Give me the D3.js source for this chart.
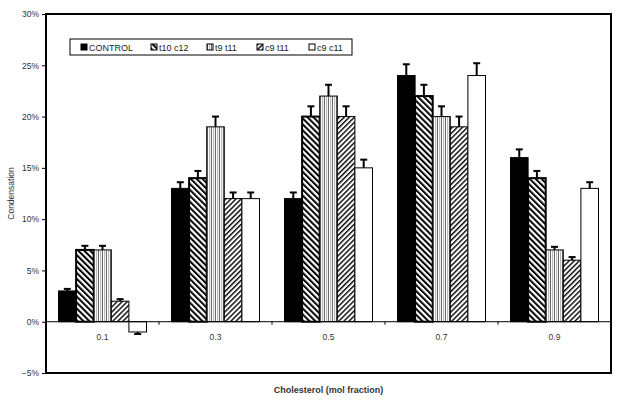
<!DOCTYPE html>
<html lang="en">
<head>
<meta charset="UTF-8">
<title>Condensation</title>
<style>
    body { margin: 0; background: #fff; }
    svg { font-family: "Liberation Sans", Arial, sans-serif; }
    .axis text { font-size: 8.5px; fill: #333; }
</style>
<script src="https://cdnjs.cloudflare.com/ajax/libs/d3/7.8.5/d3.min.js"></script>
</head>
<body>
<svg id="main" width="621" height="405"></svg>
<script>

// data (fractions)
var categories = ["0.1", "0.3", "0.5", "0.7", "0.9"];
var seriesNames = ["CONTROL", "t10 c12", "t9 t11", "c9 t11", "c9 c11"];

var control = [0.03, 0.13, 0.12, 0.24, 0.16];
var t10c12  = [0.07, 0.14, 0.20, 0.22, 0.14];
var t9t11   = [0.07, 0.19, 0.22, 0.20, 0.07];
var c9t11   = [0.02, 0.12, 0.20, 0.19, 0.06];
var c9c11   = [-0.01, 0.12, 0.15, 0.24, 0.13];

var errControl = [0.002, 0.006, 0.006, 0.011, 0.008];
var errT10c12  = [0.004, 0.007, 0.010, 0.011, 0.007];
var errT9t11   = [0.004, 0.010, 0.011, 0.010, 0.003];
var errC9t11   = [0.002, 0.006, 0.010, 0.010, 0.003];
var errC9c11   = [0.002, 0.006, 0.008, 0.012, 0.006];

var yTicks = [-0.05, 0, 0.05, 0.10, 0.15, 0.20, 0.25, 0.30];

var values = [control, t10c12, t9t11, c9t11, c9c11];
var errors = [errControl, errT10c12, errT9t11, errC9t11, errC9c11];

var svg = d3.select("#main");
var plotLeft = 46, plotRight = 611, plotTop = 14, plotBottom = 373;

var x0 = d3.scaleBand().domain(categories).range([plotLeft, plotRight]).paddingInner(0).paddingOuter(0);
var x1 = d3.scaleBand().domain(seriesNames).range([0, x0.bandwidth()]).paddingOuter(0.71);
var y = d3.scaleLinear().domain([-0.05, 0.30]).range([plotBottom, plotTop]);

// patterns
var defs = svg.append("defs");
function stripes(id, angle, w, lineW, color) {
    var p = defs.append("pattern")
        .attr("id", id)
        .attr("patternUnits", "userSpaceOnUse")
        .attr("width", w).attr("height", 10)
        .attr("patternTransform", "rotate(" + angle + ")");
    p.append("rect").attr("width", w).attr("height", 10).attr("fill", "#fff");
    p.append("rect").attr("width", lineW).attr("height", 10).attr("fill", color);
    return p;
}
stripes("p_t10", -45, 4.2, 2, "#000");
var pv = stripes("p_t9", 0, 4, 0.8, "#444");
pv.append("rect").attr("x", 2).attr("width", 1.2).attr("height", 10).attr("fill", "#bbb");
stripes("p_c9t", 45, 3.6, 1.4, "#000");

var fills = ["#000", "url(#p_t10)", "url(#p_t9)", "url(#p_c9t)", "#fff"];
var strokeW = [1, 2, 1, 1, 1];

// frame
svg.append("rect")
    .attr("x", plotLeft).attr("y", plotTop)
    .attr("width", plotRight - plotLeft).attr("height", plotBottom - plotTop)
    .attr("fill", "none").attr("stroke", "#000").attr("stroke-width", 2);

// y axis
var yAxis = svg.append("g")
    .attr("class", "axis")
    .attr("transform", "translate(" + plotLeft + ",0)")
    .call(d3.axisLeft(y).tickValues(yTicks).tickSize(4).tickPadding(3).tickFormat(d3.format(".0%")));
yAxis.select(".domain").remove();
yAxis.selectAll("line").attr("stroke", "#000");

// bars
var groups = svg.selectAll(".group")
    .data(categories)
    .enter().append("g")
    .attr("class", "group")
    .attr("transform", function(d) { return "translate(" + x0(d) + ",0)"; });

seriesNames.forEach(function(name, s) {
    groups.append("rect")
        .attr("x", function(d, i) { return x1(name); })
        .attr("y", function(d, i) { return y(Math.max(0, values[s][i])); })
        .attr("width", x1.bandwidth())
        .attr("height", function(d, i) { return Math.abs(y(values[s][i]) - y(0)); })
        .attr("fill", fills[s])
        .attr("stroke", "#000")
        .attr("stroke-width", strokeW[s]);

    // error bars
    groups.each(function(d, i) {
        var g = d3.select(this);
        var v = values[s][i], e = errors[s][i];
        var cx = x1(name) + x1.bandwidth() / 2;
        var end = v >= 0 ? v + e : v - e;
        g.append("line")
            .attr("x1", cx).attr("x2", cx)
            .attr("y1", y(v)).attr("y2", y(end))
            .attr("stroke", "#000").attr("stroke-width", 2);
        g.append("line")
            .attr("x1", cx - 3.5).attr("x2", cx + 3.5)
            .attr("y1", y(end)).attr("y2", y(end))
            .attr("stroke", "#000").attr("stroke-width", 2);
    });
});

// zero line and category ticks
svg.append("line")
    .attr("x1", plotLeft).attr("x2", plotRight)
    .attr("y1", y(0)).attr("y2", y(0))
    .attr("stroke", "#000").attr("stroke-width", 1);

var xAxis = svg.append("g")
    .attr("class", "axis")
    .attr("transform", "translate(0," + y(0) + ")");
xAxis.selectAll(".sep")
    .data(categories.slice(1))
    .enter().append("line")
    .attr("x1", function(d) { return x0(d); })
    .attr("x2", function(d) { return x0(d); })
    .attr("y1", 0).attr("y2", 3)
    .attr("stroke", "#000");
xAxis.selectAll(".lbl")
    .data(categories)
    .enter().append("text")
    .attr("x", function(d) { return x0(d) + x0.bandwidth() / 2; })
    .attr("y", 18)
    .attr("text-anchor", "middle")
    .text(function(d) { return d; });

// axis titles
svg.append("text")
    .attr("transform", "translate(14," + ((plotTop + plotBottom) / 2) + ") rotate(-90)")
    .attr("text-anchor", "middle")
    .style("font-size", "8.5px")
    .attr("fill", "#333")
    .text("Condensation");

svg.append("text")
    .attr("x", (plotLeft + plotRight) / 2)
    .attr("y", 393)
    .attr("text-anchor", "middle")
    .style("font-size", "9px")
    .style("font-weight", "bold")
    .attr("fill", "#333")
    .text("Cholesterol (mol fraction)");

// legend
var legendX = [81, 151, 207, 257, 309];
var legend = svg.append("g");
legend.append("rect")
    .attr("x", 70).attr("y", 39).attr("width", 282).attr("height", 16)
    .attr("fill", "#fff").attr("stroke", "#000").attr("stroke-width", 1);

var item = legend.selectAll(".item")
    .data(seriesNames)
    .enter().append("g")
    .attr("class", "item")
    .attr("transform", function(d, i) { return "translate(" + legendX[i] + ",44)"; });
item.append("rect")
    .attr("width", 6).attr("height", 6)
    .attr("fill", function(d, i) { return fills[i]; })
    .attr("stroke", "#000").attr("stroke-width", 1);
item.append("text")
    .attr("x", 8).attr("y", 6.5)
    .style("font-size", "9px")
    .attr("fill", "#222")
    .text(function(d) { return d; });

</script>
</body>
</html>
